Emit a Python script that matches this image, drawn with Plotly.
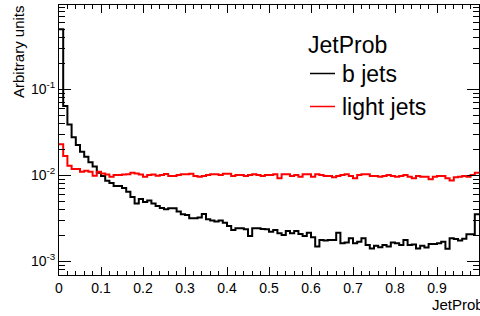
import plotly.graph_objects as go

# ---------------- data ----------------
n_bins = 100
bin_width = 0.01
bin_low_edges = [round(i * bin_width, 2) for i in range(n_bins)]

b_jets = [
    0.50, 0.064, 0.039, 0.0277, 0.0225, 0.0188, 0.0164, 0.0142, 0.0126, 0.0107,
    0.0098, 0.00865, 0.0081, 0.0075, 0.0075, 0.0071, 0.00645, 0.0056, 0.0047, 0.0053,
    0.0049, 0.0051, 0.0047, 0.0044, 0.00415, 0.00402, 0.00413, 0.00413, 0.00378, 0.00352,
    0.00345, 0.00316, 0.00316, 0.00322, 0.00355, 0.00308, 0.00297, 0.00289, 0.00297, 0.00281,
    0.00257, 0.00231, 0.00242, 0.00242, 0.00235, 0.00197, 0.00242, 0.00242, 0.00237, 0.00235,
    0.00221, 0.00231, 0.00211, 0.00202, 0.00225, 0.00211, 0.00225, 0.00208, 0.00197, 0.00215,
    0.00190, 0.00148, 0.00177, 0.00174, 0.00177, 0.00177, 0.00215, 0.00162, 0.00165, 0.00185,
    0.00162, 0.00169, 0.00185, 0.00155, 0.00141, 0.00151, 0.00145, 0.00155, 0.00148, 0.00165,
    0.00162, 0.00155, 0.00177, 0.00155, 0.00157, 0.00141, 0.00151, 0.00144, 0.00159, 0.00159,
    0.00162, 0.00169, 0.00140, 0.00185, 0.00182, 0.00174, 0.00183, 0.00206, 0.00206, 0.00352,
]

light_jets = [
    0.0229, 0.0168, 0.0129, 0.0118, 0.0118, 0.0110, 0.0113, 0.0110, 0.0099, 0.0110,
    0.0105, 0.0102, 0.0096, 0.0101, 0.0101, 0.0102, 0.0103, 0.0107, 0.0105, 0.0102,
    0.0096, 0.0101, 0.0102, 0.0099, 0.0101, 0.01035, 0.0098, 0.0098, 0.0101, 0.0103,
    0.0103, 0.0104, 0.0098, 0.0096, 0.0098, 0.0101, 0.0103, 0.0103, 0.0101, 0.0104,
    0.0104, 0.0098, 0.0101, 0.0101, 0.0098, 0.0101, 0.0103, 0.0101, 0.0098, 0.0101,
    0.0101, 0.0103, 0.0092, 0.0103, 0.0103, 0.0098, 0.0101, 0.0096, 0.0103, 0.0103,
    0.0096, 0.0103, 0.0101, 0.0098, 0.0098, 0.0095, 0.0098, 0.0101, 0.0103, 0.0098,
    0.0092, 0.0101, 0.0103, 0.0103, 0.0098, 0.0098, 0.0096, 0.0098, 0.0101, 0.0098,
    0.0096, 0.0098, 0.0101, 0.0096, 0.0092, 0.0098, 0.0096, 0.0096, 0.0090, 0.0096,
    0.0098, 0.0098, 0.0092, 0.0087, 0.0095, 0.0096, 0.0098, 0.0096, 0.0101, 0.0107,
]

x_tick_vals = [0, 0.1, 0.2, 0.3, 0.4, 0.5, 0.6, 0.7, 0.8, 0.9]
x_tick_text = ["0", "0.1", "0.2", "0.3", "0.4", "0.5", "0.6", "0.7", "0.8", "0.9"]
y_tick_vals = [0.001, 0.01, 0.1]
y_tick_text = ["10<sup>-3</sup>", "10<sup>-2</sup>", "10<sup>-1</sup>"]

legend_title = "JetProb"
series_names = ["b jets", "light jets"]
series_colors = ["#000000", "#ff0000"]

# ---------------- figure ----------------
FONT = "Liberation Sans, Arial, Helvetica, sans-serif"
W, H = 480, 316
ML, MR, MT, MB = 59, 1, 5, 41
PW, PH = W - ML - MR, H - MT - MB


def px_x(p):
    return (p - ML) / PW


def px_y(p):
    return 1 - (p - MT) / PH


fig = go.Figure()
x_steps = bin_low_edges + [bin_low_edges[-1] + bin_width]
for name, vals, col in zip(series_names, [b_jets, light_jets], series_colors):
    fig.add_trace(go.Scatter(
        x=x_steps, y=vals + [vals[-1]], mode="lines", name=name,
        line=dict(color=col, width=2, shape="hv"), showlegend=False,
        cliponaxis=True,
    ))

minor_y = []
for e in range(-4, 0):
    for k in range(2, 10):
        minor_y.append(k * 10 ** e)

fig.update_xaxes(
    range=[0, 1], showgrid=False, zeroline=False, automargin=False,
    showline=True, linecolor="black", linewidth=1, mirror="allticks",
    ticks="inside", ticklen=8, tickcolor="black", tickwidth=1,
    tickmode="array", tickvals=x_tick_vals, ticktext=x_tick_text,
    tickfont=dict(family=FONT, size=14, color="black"),
    minor=dict(ticks="inside", ticklen=4, tickcolor="black", dtick=0.02, tick0=0, showgrid=False),
)
fig.update_yaxes(
    type="log", range=[-3.16, -0.02], showgrid=False, zeroline=False, automargin=False,
    showline=True, linecolor="black", linewidth=1, mirror="allticks",
    ticks="inside", ticklen=12, tickcolor="black", tickwidth=1,
    tickmode="array", tickvals=y_tick_vals, ticktext=y_tick_text,
    tickfont=dict(family=FONT, size=14, color="black"),
    minor=dict(ticks="inside", ticklen=6, tickcolor="black", tickmode="array",
               tickvals=minor_y, showgrid=False),
)

annotations = [
    dict(text="JetProb", x=px_x(486), y=px_y(304), xref="paper", yref="paper",
         xanchor="right", yanchor="middle", showarrow=False,
         font=dict(family=FONT, size=15, color="black")),
    dict(text="Arbitrary units", x=px_x(19), y=px_y(52), xref="paper", yref="paper",
         xanchor="center", yanchor="middle", textangle=-90, showarrow=False,
         font=dict(family=FONT, size=15, color="black")),
    dict(text=legend_title, x=px_x(306), y=px_y(45), xref="paper", yref="paper",
         xanchor="left", yanchor="middle", showarrow=False,
         font=dict(family=FONT, size=23, color="black")),
]
shapes = []
legend_rows_y = [74, 107]
for name, col, ry in zip(series_names, series_colors, legend_rows_y):
    annotations.append(dict(text=name, x=px_x(340), y=px_y(ry), xref="paper", yref="paper",
                            xanchor="left", yanchor="middle", showarrow=False,
                            font=dict(family=FONT, size=23, color="black")))
    shapes.append(dict(type="line", xref="paper", yref="paper",
                       x0=px_x(310), x1=px_x(335), y0=px_y(ry - 0.5), y1=px_y(ry - 0.5),
                       line=dict(color=col, width=1.5)))

fig.update_layout(
    width=W, height=H, margin=dict(l=ML, r=MR, t=MT, b=MB, autoexpand=False),
    paper_bgcolor="white", plot_bgcolor="white",
    annotations=annotations, shapes=shapes, showlegend=False,
    font=dict(family=FONT, color="black"),
)

fig.write_html("out.html", config={"displayModeBar": False},
               post_script="document.body.style.margin='0';document.body.style.padding='0';")
